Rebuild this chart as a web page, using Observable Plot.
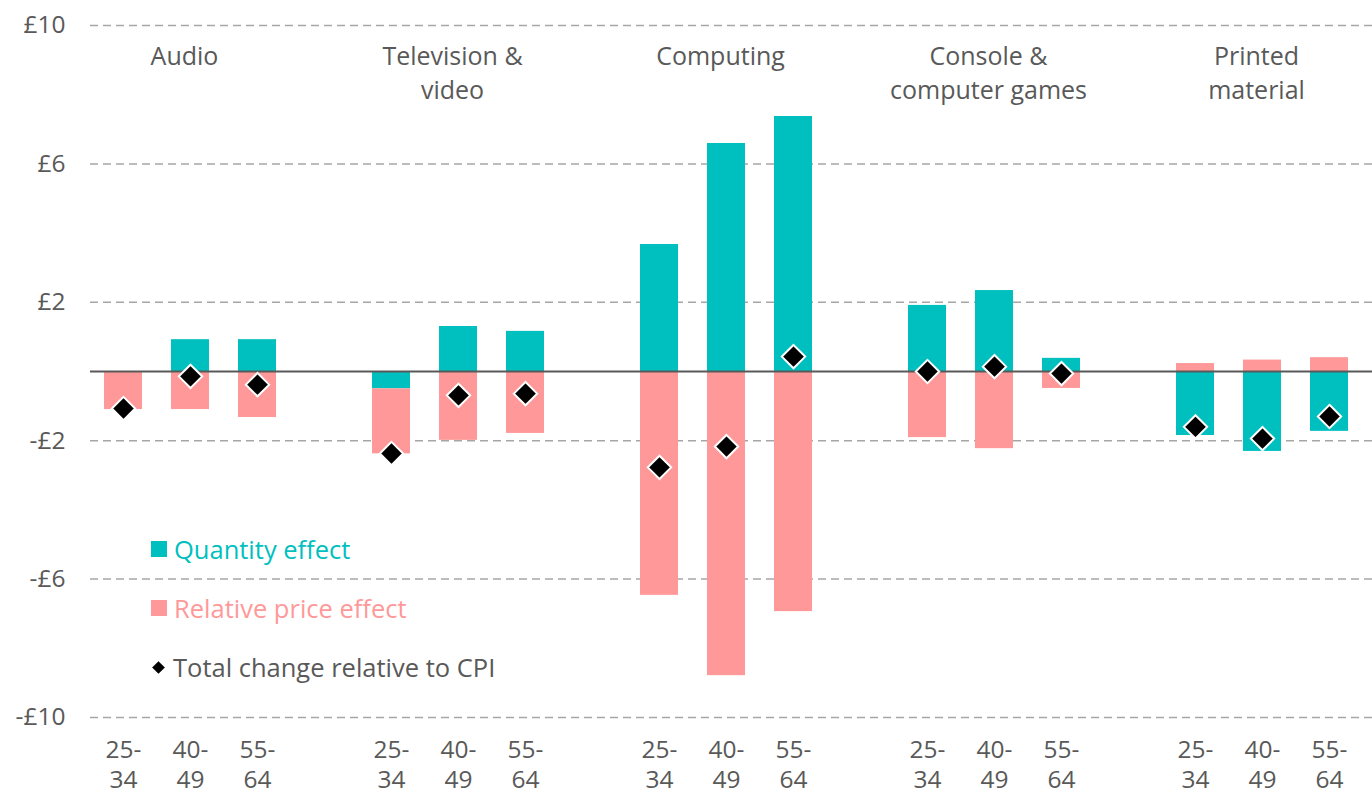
<!DOCTYPE html>
<html>
<head>
<meta charset="utf-8">
<script src="https://cdn.jsdelivr.net/npm/d3@7"></script>
<script src="https://cdn.jsdelivr.net/npm/@observablehq/plot@0.6"></script>
<style>
  html, body { margin: 0; padding: 0; background: #fff; }
  #wrap { position: relative; width: 1372px; height: 796px; font-family: "Open Sans", Lato, sans-serif; }
  .leg { position: absolute; left: 151px; font-size: 25.5px; display: flex; align-items: center; white-space: nowrap; }
  .sw { width: 16px; height: 16px; margin-right: 7px; display: inline-block; }
</style>
</head>
<body>
<div id="wrap"></div>
<script>
const groups = ["Audio", "Television &\nvideo", "Computing", "Console &\ncomputer games", "Printed\nmaterial"];
const ages = ["25-34", "40-49", "55-64"];
const quantity = [
  [0, 0.92, 0.92],
  [-0.5, 1.30, 1.16],
  [3.67, 6.59, 7.37],
  [1.91, 2.34, 0.38],
  [-1.85, -2.31, -1.73]
];
const price = [
  [-1.10, -1.10, -1.33],
  [-1.88, -1.99, -1.79],
  [-6.47, -8.79, -6.94],
  [-1.91, -2.23, -0.49],
  [0.23, 0.33, 0.40]
];
const total = [
  [-1.07, -0.14, -0.38],
  [-2.37, -0.69, -0.64],
  [-2.77, -2.17, 0.43],
  [0.0, 0.14, -0.06],
  [-1.60, -1.94, -1.30]
];
const yTicks = [10, 6, 2, -2, -6, -10];

const QCOL = "#00BFBF", PCOL = "#FF9999", TXT = "#595959";
const FONT = "'Open Sans', Lato, sans-serif";

// build x domain with spacer slots between groups
const domain = [];
groups.forEach((g, i) => {
  ages.forEach(a => domain.push(i + "|" + a));
  if (i < groups.length - 1) domain.push("gap" + i);
});

const bars = [];
const dots = [];
groups.forEach((g, i) => {
  ages.forEach((a, j) => {
    const key = i + "|" + a;
    bars.push({key, effect: "Quantity effect", value: quantity[i][j]});
    bars.push({key, effect: "Relative price effect", value: price[i][j]});
    dots.push({key, value: total[i][j]});
  });
});
const labels = groups.map((g, i) => ({key: i + "|" + ages[1], text: g}));

const chart = Plot.plot({
  width: 1372,
  height: 796,
  marginLeft: 90,
  marginRight: 0,
  marginTop: 25,
  marginBottom: 79,
  style: {fontFamily: FONT, color: TXT, background: "#fff"},
  x: {domain, paddingInner: 0.43, paddingOuter: 0.215, insetRight: 9, label: null},
  y: {domain: [-10, 10], label: null},
  color: {domain: ["Quantity effect", "Relative price effect"], range: [QCOL, PCOL]},
  marks: [
    Plot.ruleY(yTicks, {stroke: "#A6A6A6", strokeWidth: 1.5, strokeDasharray: "8,5"}),
    Plot.barY(bars, {x: "key", y: "value", fill: "effect"}),
    Plot.ruleY([0], {stroke: "#595959", strokeWidth: 2}),
    Plot.dot(dots, {x: "key", y: "value", symbol: "diamond2", r: 10.5, fill: "black", stroke: "white", strokeWidth: 2}),
    Plot.text(labels, {x: "key", y: () => 10, text: "text", fontSize: 25, lineAnchor: "top", lineHeight: 1.37, dy: 15, dx: -6, fill: TXT}),
    Plot.axisY({ticks: yTicks, tickSize: 0, tickPadding: 25, fontSize: 24.5, label: null,
      tickFormat: d => d < 0 ? "-£" + (-d) : "£" + d}),
    Plot.axisX({tickSize: 0, tickPadding: 19, fontSize: 24.5, lineHeight: 1.22, label: null,
      tickFormat: d => d.startsWith("gap") ? "" : d.split("|")[1].replace("-", "-\n")})
  ]
});

const wrap = document.getElementById("wrap");
wrap.appendChild(chart);

const legendItems = [
  {label: "Quantity effect", color: QCOL, textColor: QCOL, y: 549, shape: "square"},
  {label: "Relative price effect", color: PCOL, textColor: PCOL, y: 608, shape: "square"},
  {label: "Total change relative to CPI", color: "#000", textColor: TXT, y: 667, shape: "diamond"}
];
legendItems.forEach(it => {
  const d = document.createElement("div");
  d.className = "leg";
  d.style.top = (it.y - 15) + "px";
  d.style.height = "30px";
  d.style.color = it.textColor;
  const sw = document.createElement("span");
  sw.className = "sw";
  sw.style.background = it.color;
  if (it.shape === "diamond") {
    sw.style.width = "9px"; sw.style.height = "9px";
    sw.style.transform = "rotate(45deg)";
    sw.style.marginLeft = "3px"; sw.style.marginRight = "10px";
  }
  d.appendChild(sw);
  d.appendChild(document.createTextNode(it.label));
  wrap.appendChild(d);
});
</script>
</body>
</html>
